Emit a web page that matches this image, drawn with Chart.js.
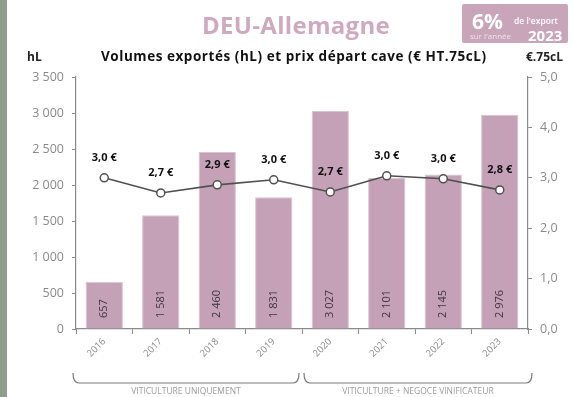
<!DOCTYPE html>
<html lang="fr">
<head>
<meta charset="utf-8">
<script src="https://cdn.jsdelivr.net/npm/chart.js@4.4.1/dist/chart.umd.min.js"></script>
<style>
  html, body { margin: 0; padding: 0; background: #fff; }
  #wrap { position: relative; width: 574px; height: 397px; overflow: hidden; font-family: "Open Sans", sans-serif; }
  #strip { position: absolute; left: 0; top: 0; width: 7px; height: 397px; background: #8e9e8c; }
  #chart { position: absolute; left: 0; top: 0; }
  .t { position: absolute; white-space: nowrap; }
  #title { left: 0; width: 592px; top: 8px; text-align: center; font-size: 24px; font-weight: 700; color: #cfa9bf; letter-spacing: 0.3px; }
  #badge { left: 462px; top: 4px; width: 106px; height: 39px; background: #c9a5b9; border-radius: 2px; color: #fff; }
  #badge .pct { position: absolute; left: 10px; top: 3px; font-size: 21px; font-weight: 700; }
  #badge .de { position: absolute; left: 52px; top: 11px; font-size: 8.5px; font-weight: 600; }
  #badge .sur { position: absolute; left: 8px; top: 26px; font-size: 8px; color: #f1e3ea; }
  #badge .yr { position: absolute; left: 66px; top: 21px; font-size: 15px; font-weight: 700; }
  #sub { left: 101px; top: 47px; font-size: 13.5px; font-weight: 700; color: #111; letter-spacing: 0.55px; }
  #hl { left: 27px; top: 48px; font-size: 12px; font-weight: 700; color: #222; }
  #eur { left: 526px; top: 48px; font-size: 12px; font-weight: 700; color: #222; }
</style>
</head>
<body>
<div id="wrap">
  <div id="strip"></div>
  <canvas id="chart" width="574" height="397"></canvas>
  <div class="t" id="title">DEU-Allemagne</div>
  <div class="t" id="badge">
    <span class="pct">6%</span>
    <span class="de">de l'export</span>
    <span class="sur">sur l'année</span>
    <span class="yr">2023</span>
  </div>
  <div class="t" id="sub">Volumes exportés (hL) et prix départ cave (€ HT.75cL)</div>
  <div class="t" id="hl">hL</div>
  <div class="t" id="eur">€.75cL</div>
</div>
<script>
// Export years
const years = ['2016', '2017', '2018', '2019', '2020', '2021', '2022', '2023'];
// Exported volumes (hL)
const volumes = [657, 1581, 2460, 1831, 3027, 2101, 2145, 2976];
// Ex-cellar price (€ HT per 75 cL bottle)
const prices = [3.0, 2.70, 2.86, 2.96, 2.72, 3.04, 2.98, 2.76];
// Period groups shown under the axis: [first index, last index, label]
const periods = [
  [0, 3, 'VITICULTURE UNIQUEMENT'],
  [4, 7, 'VITICULTURE + NEGOCE VINIFICATEUR']
];

const FONT = '"Open Sans", sans-serif';
const AXIS = '#8a8a8a';

const fmtVol = v => String(v).replace(/\B(?=(\d{3})+(?!\d))/g, ' ');
const fmtPrice = v => v.toFixed(1).replace('.', ',') + ' €';

const valueLabels = {
  id: 'valueLabels',
  afterDatasetsDraw(chart) {
    const ctx = chart.ctx;
    const yScale = chart.scales.y;
    // volumes, written upward inside each bar
    const barMeta = chart.getDatasetMeta(1);
    ctx.save();
    ctx.fillStyle = '#3f3340';
    ctx.font = '11px ' + FONT;
    ctx.textAlign = 'left';
    ctx.textBaseline = 'middle';
    barMeta.data.forEach((bar, i) => {
      ctx.save();
      ctx.translate(bar.x, yScale.bottom - 11);
      ctx.rotate(-Math.PI / 2);
      ctx.fillText(fmtVol(volumes[i]), 0, 0);
      ctx.restore();
    });
    // prices, above each point
    const lineMeta = chart.getDatasetMeta(0);
    ctx.fillStyle = '#111';
    ctx.font = 'bold 11px ' + FONT;
    ctx.textAlign = 'center';
    lineMeta.data.forEach((pt, i) => {
      ctx.fillText(fmtPrice(prices[i]), pt.x, pt.y - 20);
    });
    ctx.restore();
  }
};

const braces = {
  id: 'braces',
  afterDraw(chart) {
    const ctx = chart.ctx;
    const x = chart.scales.x;
    const step = x.getPixelForValue(1) - x.getPixelForValue(0);
    const top = 373, bot = 383, r = 6;
    ctx.save();
    ctx.strokeStyle = '#7a7a7a';
    ctx.lineWidth = 1.2;
    periods.forEach(([a, b, label], k) => {
      let x0 = x.getPixelForValue(a) - step / 2;
      let x1 = x.getPixelForValue(b) + step / 2;
      x0 += (k === 0) ? -3 : 2;
      x1 += (k === 0) ? -3 : 4;
      ctx.beginPath();
      ctx.moveTo(x0, top);
      ctx.quadraticCurveTo(x0, bot, x0 + r, bot);
      ctx.lineTo(x1 - r, bot);
      ctx.quadraticCurveTo(x1, bot, x1, top);
      ctx.stroke();
      ctx.fillStyle = '#9a9a9a';
      ctx.font = '8.5px ' + FONT;
      ctx.textAlign = 'center';
      ctx.textBaseline = 'middle';
      ctx.fillText(label, (x0 + x1) / 2, 392);
    });
    ctx.restore();
  }
};

new Chart(document.getElementById('chart'), {
  data: {
    labels: years,
    datasets: [
      {
        type: 'line',
        label: 'Prix départ cave',
        data: prices,
        yAxisID: 'y1',
        order: 0,
        borderColor: '#505050',
        borderWidth: 1.6,
        pointRadius: 4,
        pointBackgroundColor: '#ffffff',
        pointBorderColor: '#505050',
        pointBorderWidth: 1.5,
        tension: 0
      },
      {
        type: 'bar',
        label: 'Volumes exportés',
        data: volumes,
        yAxisID: 'y',
        order: 1,
        backgroundColor: '#c4a1b6',
        borderColor: '#d9c3d0',
        borderWidth: 1,
        barPercentage: 0.66,
        categoryPercentage: 1
      }
    ]
  },
  options: {
    responsive: false,
    animation: false,
    devicePixelRatio: 1,
    layout: { padding: { top: 77, left: 0, right: 0, bottom: 0 } },
    plugins: { legend: { display: false }, tooltip: { enabled: false }, title: { display: false } },
    scales: {
      x: {
        grid: { display: true, drawOnChartArea: false, drawTicks: true, tickLength: 5, color: AXIS, offset: true },
        border: { color: AXIS, width: 1.2 },
        ticks: { color: '#8a8a8a', font: { family: FONT, size: 9.5 }, minRotation: 45, maxRotation: 45, autoSkip: false, padding: 2 },
        afterFit(s) { s.height = 68; }
      },
      y: {
        position: 'left',
        min: 0, max: 3500,
        grid: { drawOnChartArea: false, drawTicks: true, tickLength: 4, color: AXIS },
        border: { color: AXIS, width: 1.2 },
        ticks: { stepSize: 500, color: '#8a8a8a', font: { family: FONT, size: 12.5 }, padding: 8, callback: v => fmtVol(v) },
        afterFit(s) { s.width = 76; }
      },
      y1: {
        position: 'right',
        min: 0, max: 5,
        grid: { drawOnChartArea: false, drawTicks: true, tickLength: 4, color: AXIS },
        border: { color: AXIS, width: 1.2 },
        ticks: { stepSize: 1, color: '#8a8a8a', font: { family: FONT, size: 12.5 }, padding: 8, callback: v => v.toFixed(1).replace('.', ',') },
        afterFit(s) { s.width = 46; }
      }
    }
  },
  plugins: [valueLabels, braces]
});
</script>
</body>
</html>
